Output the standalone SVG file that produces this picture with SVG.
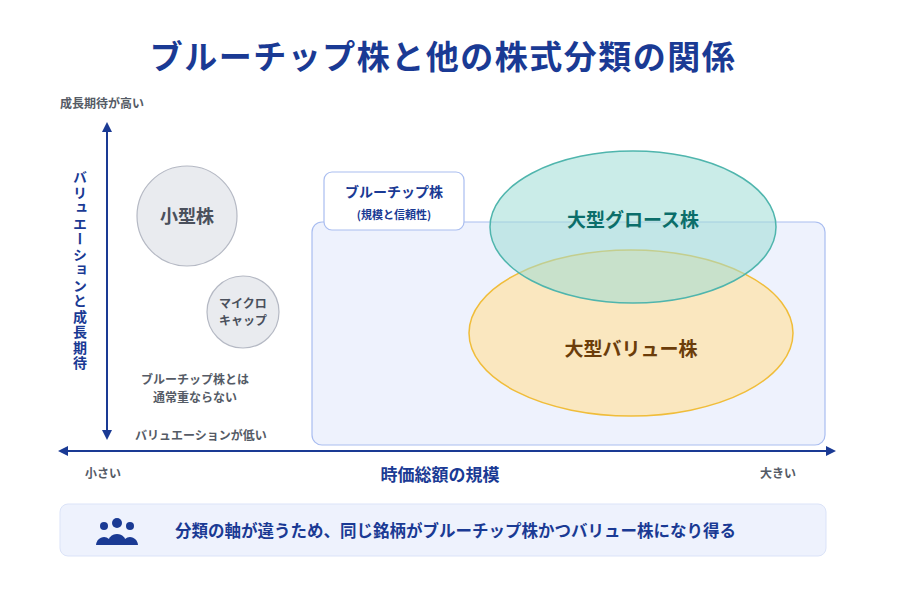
<svg xmlns="http://www.w3.org/2000/svg" width="900" height="600" viewBox="0 0 900 600">
<style>
text{font-family:"Noto Sans CJK JP","Noto Sans",sans-serif;font-weight:700}
.g{fill:#555b66;font-size:12px}
.ax{stroke:#1a3a94;stroke-width:2;fill:none}
</style>
<defs>
<marker id="ah" markerWidth="10" markerHeight="10" refX="8" refY="5" orient="auto" markerUnits="userSpaceOnUse"><path d="M0,0 L10,5 L0,10 Z" fill="#1a3a94"/></marker>
</defs>
<rect width="900" height="600" fill="#fff"/>
<text x="443" y="69" text-anchor="middle" font-size="33" letter-spacing="1.5" fill="#1a3a94">ブルーチップ株と他の株式分類の関係</text>
<g id="connectors">
<line class="ax" x1="107" y1="390" x2="107" y2="124" marker-end="url(#ah)"/>
<line class="ax" x1="107" y1="390" x2="107" y2="438" marker-end="url(#ah)"/>
<line class="ax" x1="450" y1="451" x2="60" y2="451" marker-end="url(#ah)"/>
<line class="ax" x1="450" y1="451" x2="834" y2="451" marker-end="url(#ah)"/>
</g>
<g id="axis-labels">
<text x="60" y="108" class="g">成長期待が高い</text>
<text x="80" y="170" font-size="14" fill="#1a3a94" writing-mode="tb" letter-spacing="1.5">バリュエーションと成長期待</text>
<text x="135" y="440" class="g">バリュエーションが低い</text>
<text x="85" y="478" class="g">小さい</text>
<text x="760" y="478" class="g">大きい</text>
<text x="440" y="481" text-anchor="middle" font-size="17" fill="#1a3a94">時価総額の規模</text>
</g>
<g id="bluechip-box"><rect x="312" y="222" width="513" height="223" rx="10" fill="#eef2fd" stroke="#a9bdf0" stroke-width="1.2"/></g>
<g id="bluechip-label"><rect x="324" y="172" width="140" height="58" rx="8" fill="#fff" stroke="#a9bdf0" stroke-width="1.2"/>
<text x="394" y="197" text-anchor="middle" font-size="14" fill="#1a3a94">ブルーチップ株</text>
<text x="394" y="219" text-anchor="middle" font-size="11" fill="#1a3a94">(規模と信頼性)</text></g>
<g id="small"><circle cx="187" cy="216" r="50" fill="#e9ebef" stroke="#b5b9c4" stroke-width="1.2"/><text x="187" y="223" text-anchor="middle" font-size="18" fill="#4a505c">小型株</text></g>
<g id="micro"><circle cx="243" cy="312" r="36" fill="#e9ebef" stroke="#b5b9c4" stroke-width="1.2"/><text x="243" y="308" text-anchor="middle" font-size="12" fill="#4a505c">マイクロ</text><text x="243" y="325" text-anchor="middle" font-size="12" fill="#4a505c">キャップ</text></g>
<g id="note"><text x="195" y="384" text-anchor="middle" class="g">ブルーチップ株とは</text><text x="195" y="402" text-anchor="middle" class="g">通常重ならない</text></g>
<g id="value"><ellipse cx="631" cy="333" rx="162" ry="83" fill="#fce5b4" fill-opacity="0.85" stroke="#f0bd3a" stroke-width="1.5"/><text x="631" y="356" text-anchor="middle" font-size="19" fill="#6b3d0a">大型バリュー株</text></g>
<g id="growth"><ellipse cx="633" cy="227" rx="143" ry="76" fill="#9fdcd6" fill-opacity="0.55" stroke="#4fb5ad" stroke-width="1.5"/><text x="633" y="227" text-anchor="middle" font-size="19" fill="#0b6e6a">大型グロース株</text></g>
<g id="banner"><rect x="60" y="504" width="766" height="52" rx="8" fill="#eef2fd" stroke="#dbe3f8"/>
<g fill="#1a3a94"><circle cx="117" cy="523" r="5"/><circle cx="104" cy="526" r="4"/><circle cx="130" cy="526" r="4"/><path d="M107,545 a10,11 0 0 1 20,0 Z"/><path d="M96,545 a8,9 0 0 1 13,-6 v6 Z"/><path d="M138,545 a8,9 0 0 0 -13,-6 v6 Z"/></g>
<text x="175" y="537" font-size="16.5" fill="#1a3a94">分類の軸が違うため、同じ銘柄がブルーチップ株かつバリュー株になり得る</text></g>
</svg>
